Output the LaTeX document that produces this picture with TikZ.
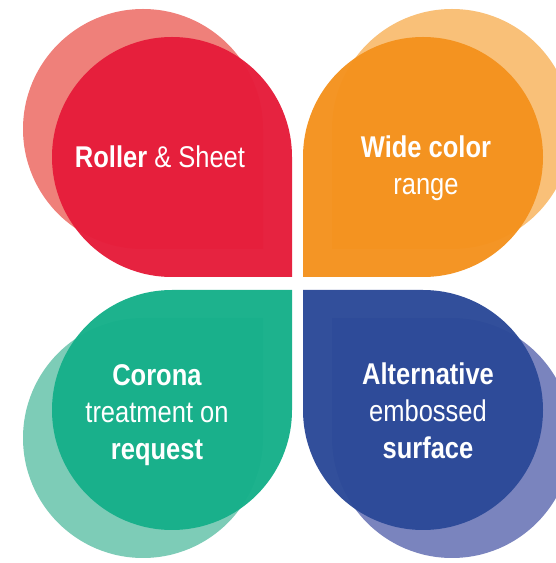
\documentclass[tikz,border=0pt]{standalone}
\usepackage{fontspec}
\setmainfont{Liberation Sans}[FakeStretch=0.85]
\usetikzlibrary{calc}
\definecolor{redmain}{RGB}{230,28,58}
\definecolor{redlight}{RGB}{239,128,122}
\definecolor{orangemain}{RGB}{244,146,30}
\definecolor{orangelight}{RGB}{249,192,120}
\definecolor{greenmain}{RGB}{22,176,138}
\definecolor{greenlight}{RGB}{125,204,183}
\definecolor{bluemain}{RGB}{44,74,152}
\definecolor{bluelight}{RGB}{122,132,190}

\begin{document}
\begin{tikzpicture}[x=1pt,y=1pt,
   petal/.pic={\fill[pic actions] (120,0) -- (120,-120) -- (0,-120)
      arc[start angle=270,end angle=0,radius=120] -- cycle;},
   main petal/.style={fill opacity=0.97},
   label text/.style={text=white,align=center,inner sep=0pt,
      font=\fontsize{30}{37}\selectfont}]
\clip (0,0) rectangle (556,563);
\fill[white] (0,0) rectangle (556,563);
% centres of the petals
\coordinate (redc) at (172,406);
\coordinate (orangec) at (423,406);
\coordinate (greenc) at (172,153);
\coordinate (bluec) at (423,153);
% light petals behind
\pic[fill=redlight] at ($(redc)+(-29,28)$) {petal};
\pic[fill=orangelight,rotate=-90] at ($(orangec)+(29,28)$) {petal};
\pic[fill=greenlight,rotate=90] at ($(greenc)+(-29,-28)$) {petal};
\pic[fill=bluelight,rotate=180] at ($(bluec)+(29,-28)$) {petal};
% main petals
\pic[fill=redmain,main petal] at (redc) {petal};
\pic[fill=orangemain,main petal,rotate=-90] at (orangec) {petal};
\pic[fill=greenmain,main petal,rotate=90] at (greenc) {petal};
\pic[fill=bluemain,main petal,rotate=180] at (bluec) {petal};
% labels
\node[label text] (roller) at ($(redc)+(-12,0)$) {\textbf{Roller} \& Sheet};
\node[label text] (color) at ($(orangec)+(3,-11)$) {\textbf{Wide color}\\range};
\node[label text] (corona) at ($(greenc)+(-15,-5)$)
   {\textbf{Corona}\\treatment on\\\textbf{request}};
\node[label text] (emboss) at ($(bluec)+(5,-1)$)
   {\textbf{Alternative}\\embossed\\\textbf{surface}};
\end{tikzpicture}
\end{document}
